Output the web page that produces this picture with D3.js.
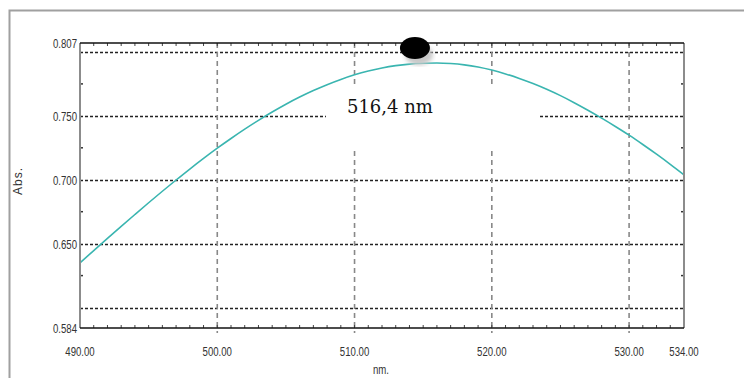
<!DOCTYPE html>
<html>
<head>
<meta charset="utf-8">
<script src="https://cdn.jsdelivr.net/npm/d3@7"></script>
<style>
  body { margin: 0; background: #fff; }
  svg { display: block; }
  .tick-label { font-family: "Liberation Sans", Arial, sans-serif; font-size: 13px; fill: #333; }
</style>
</head>
<body>
<svg class="chart" width="744" height="378"></svg>
<script>
// spectrum data (wavelength in nm, absorbance)
var wavelengths = [490, 491, 492, 493, 494, 495, 496, 497, 498, 499,
                   500, 501, 502, 503, 504, 505, 506, 507, 508, 509,
                   510, 511, 512, 513, 514, 515, 516, 517, 518, 519,
                   520, 521, 522, 523, 524, 525, 526, 527, 528, 529,
                   530, 531, 532, 533, 534];
var absorbance = [0.6350, 0.6446, 0.6541, 0.6635, 0.6728, 0.6820, 0.6910, 0.6998, 0.7084, 0.7167,
                  0.7247, 0.7323, 0.7396, 0.7465, 0.7530, 0.7591, 0.7647, 0.7698, 0.7744, 0.7785,
                  0.7821, 0.7851, 0.7875, 0.7893, 0.7905, 0.7911, 0.7913, 0.7909, 0.7899, 0.7882,
                  0.7858, 0.7828, 0.7793, 0.7753, 0.7708, 0.7658, 0.7603, 0.7544, 0.7482, 0.7417,
                  0.7349, 0.7276, 0.7200, 0.7121, 0.7039];

// axis ticks and labels
var x_labels = [490, 500, 510, 520, 530, 534];
var x_grid = [500, 510, 520, 530];
var y_labels = [0.807, 0.750, 0.700, 0.650, 0.584];
var y_grid = [0.800, 0.750, 0.700, 0.650, 0.600];
var y_minor = [0.775, 0.725, 0.675, 0.625];
var peak_label = "516,4 nm";
// where the black marker sits on the wavelength axis
var marker_nm = 514.4;

// plot box
var box_left = 80, box_right = 684, box_top = 43, box_bottom = 328;
// the labels in the original are squeezed sideways
var squeeze = 0.74;

var chart = d3.select(".chart");
var x = d3.scaleLinear().domain([490, 534]).range([box_left, box_right]);
var y = d3.scaleLinear().domain([0.584, 0.807]).range([box_bottom, box_top]);

// outer frame (top + left edges)
chart.append("path")
    .attr("d", "M9.5,378 V10.5 H744")
    .attr("fill", "none")
    .attr("stroke", "#a0a0a0")
    .attr("stroke-width", 2);

// horizontal dotted grid
chart.selectAll("line.hgrid")
    .data(y_grid)
    .enter().append("line")
    .attr("class", "hgrid")
    .attr("x1", box_left).attr("x2", box_right)
    .attr("y1", function(d) { return Math.round(y(d)) + 0.5; })
    .attr("y2", function(d) { return Math.round(y(d)) + 0.5; })
    .attr("stroke", "#222")
    .attr("stroke-width", 1.3)
    .attr("stroke-dasharray", "3,2");

// vertical dashed grid
chart.selectAll("line.vgrid")
    .data(x_grid)
    .enter().append("line")
    .attr("class", "vgrid")
    .attr("x1", function(d) { return x(d); })
    .attr("x2", function(d) { return x(d); })
    .attr("y1", box_top).attr("y2", box_bottom + 5)
    .attr("stroke", "#888")
    .attr("stroke-width", 1.6)
    .attr("stroke-dasharray", "5,4");

// white patch behind the peak label hides the grid
var label_x = x(marker_nm) - 68, label_y = 113;
chart.append("rect")
    .attr("x", label_x - 21).attr("y", 84)
    .attr("width", 214).attr("height", 64)
    .attr("fill", "#fff");

chart.append("text")
    .attr("x", label_x)
    .attr("y", label_y)
    .attr("font-family", "DejaVu Serif, serif")
    .attr("font-size", 18)
    .attr("fill", "#111")
    .text(peak_label);

// minor ticks on top and bottom (every nm)
var x_minor = d3.range(491, 534);
chart.selectAll("line.xbot")
    .data(x_minor)
    .enter().append("line")
    .attr("x1", function(d) { return x(d); })
    .attr("x2", function(d) { return x(d); })
    .attr("y1", box_bottom).attr("y2", box_bottom - 3)
    .attr("stroke", "#444");
chart.selectAll("line.xtop")
    .data(x_minor)
    .enter().append("line")
    .attr("x1", function(d) { return x(d); })
    .attr("x2", function(d) { return x(d); })
    .attr("y1", box_top).attr("y2", box_top + 3)
    .attr("stroke", "#444");

// minor ticks left and right
chart.selectAll("line.yleft")
    .data(y_minor)
    .enter().append("line")
    .attr("x1", box_left).attr("x2", box_left + 3)
    .attr("y1", function(d) { return y(d); })
    .attr("y2", function(d) { return y(d); })
    .attr("stroke", "#333").attr("stroke-width", 1.5);
chart.selectAll("line.yright")
    .data(y_minor)
    .enter().append("line")
    .attr("x1", box_right).attr("x2", box_right - 3)
    .attr("y1", function(d) { return y(d); })
    .attr("y2", function(d) { return y(d); })
    .attr("stroke", "#333").attr("stroke-width", 1.5);

// the spectrum
var line = d3.line()
    .x(function(d, i) { return x(wavelengths[i]); })
    .y(function(d) { return y(d); })
    .curve(d3.curveMonotoneX);

chart.append("path")
    .datum(absorbance)
    .attr("d", line)
    .attr("fill", "none")
    .attr("stroke", "#3ab5b0")
    .attr("stroke-width", 1.6);

// box edges: grey sides, black top/bottom
chart.append("line").attr("x1", box_left).attr("x2", box_left).attr("y1", box_top).attr("y2", box_bottom)
    .attr("stroke", "#8c8c8c").attr("stroke-width", 2);
chart.append("line").attr("x1", box_right).attr("x2", box_right).attr("y1", box_top).attr("y2", box_bottom)
    .attr("stroke", "#8c8c8c").attr("stroke-width", 2);
chart.append("line").attr("x1", box_left).attr("x2", box_right).attr("y1", box_top).attr("y2", box_top)
    .attr("stroke", "#111").attr("stroke-width", 1.5);
chart.append("line").attr("x1", box_left).attr("x2", box_right).attr("y1", box_bottom).attr("y2", box_bottom)
    .attr("stroke", "#111").attr("stroke-width", 1.5);

// tick labels
chart.selectAll("text.xl")
    .data(x_labels)
    .enter().append("text")
    .attr("class", "tick-label")
    .attr("transform", function(d) { return "translate(" + x(d) + ",356) scale(" + squeeze + ",1)"; })
    .attr("text-anchor", "middle")
    .text(function(d) { return d3.format(".2f")(d); });

chart.selectAll("text.yl")
    .data(y_labels)
    .enter().append("text")
    .attr("class", "tick-label")
    .attr("transform", function(d) { return "translate(77," + (y(d) + 5) + ") scale(" + squeeze + ",1)"; })
    .attr("text-anchor", "end")
    .text(function(d) { return d3.format(".3f")(d); });

// axis titles
chart.append("text")
    .attr("class", "tick-label")
    .attr("transform", "translate(22,181) rotate(-90)")
    .attr("text-anchor", "middle")
    .attr("letter-spacing", 1)
    .style("font-size", "12px")
    .text("Abs.");

chart.append("text")
    .attr("class", "tick-label")
    .attr("transform", "translate(381,374) scale(" + squeeze + ",1)")
    .attr("text-anchor", "middle")
    .style("font-size", "13px")
    .text("nm.");

// peak marker with its soft shadow
var defs = chart.append("defs");
defs.append("filter").attr("id", "blur")
    .append("feGaussianBlur").attr("stdDeviation", 2);

chart.append("ellipse")
    .attr("cx", x(marker_nm) + 4).attr("cy", 55)
    .attr("rx", 14).attr("ry", 10)
    .attr("fill", "#c8c8c8")
    .attr("filter", "url(#blur)");

chart.append("ellipse")
    .attr("cx", x(marker_nm)).attr("cy", 48)
    .attr("rx", 15).attr("ry", 11)
    .attr("fill", "#000");
</script>
</body>
</html>
